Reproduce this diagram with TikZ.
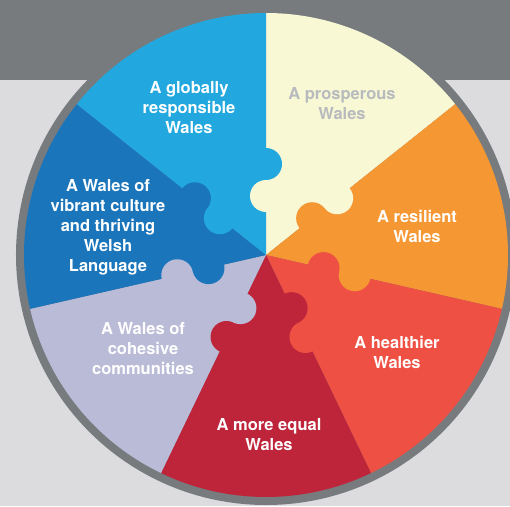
\documentclass[tikz,border=0pt]{standalone}
\usepackage{fontspec}
\setmainfont{TeX Gyre Heros}
\usepackage{xcolor}
\usepackage{tikz}
\definecolor{wbBand}{HTML}{777B7E}
\definecolor{wbBack}{HTML}{DCDCDE}
\definecolor{wbGlobal}{HTML}{22A8DF}
\definecolor{wbProsper}{HTML}{F8F8D5}
\definecolor{wbResilient}{HTML}{F59733}
\definecolor{wbHealthy}{HTML}{EF5044}
\definecolor{wbEqual}{HTML}{BE243A}
\definecolor{wbCohesive}{HTML}{B9BBD7}
\definecolor{wbCulture}{HTML}{1B75BB}
\definecolor{wbGreyText}{HTML}{B8BBBD}

\begin{document}
\begin{tikzpicture}[
  goal/.style={font=\bfseries\fontsize{16.5}{20}\selectfont, text=white, align=center},
  piece/.style={radius=16pt}]
  % background and ring
  \useasboundingbox (-266pt,-251pt) rectangle (244pt,255pt);
  \fill[wbBack] (-266pt,-251pt) rectangle (244pt,255pt);
  \fill[wbBand] (-266pt,175pt) rectangle (244pt,255pt);
  \fill[wbBand] (0,0) circle[radius=250pt];
  % the seven pieces
  \fill[wbProsper] (0,0) -- (90:242pt) arc[start angle=90, end angle=38.57, radius=242pt] -- cycle;
  \fill[wbResilient] (0,0) -- (38.57:242pt) arc[start angle=38.57, end angle=-12.86, radius=242pt] -- cycle;
  \fill[wbHealthy] (0,0) -- (-12.86:242pt) arc[start angle=-12.86, end angle=-64.29, radius=242pt] -- cycle;
  \fill[wbEqual] (0,0) -- (-64.29:242pt) arc[start angle=-64.29, end angle=-115.71, radius=242pt] -- cycle;
  \fill[wbCohesive] (0,0) -- (-115.71:242pt) arc[start angle=-115.71, end angle=-167.14, radius=242pt] -- cycle;
  \fill[wbCulture] (0,0) -- (-167.14:242pt) arc[start angle=-167.14, end angle=-218.57, radius=242pt] -- cycle;
  \fill[wbGlobal] (0,0) -- (141.43:242pt) arc[start angle=141.43, end angle=90, radius=242pt] -- cycle;
  % puzzle knobs
  \fill[wbGlobal] (90:91pt) circle[piece];
  \fill[wbProsper] (90:59pt) circle[piece];
  \fill[wbProsper] (38.57:91pt) circle[piece];
  \fill[wbResilient] (38.57:59pt) circle[piece];
  \fill[wbResilient] (-12.86:91pt) circle[piece];
  \fill[wbHealthy] (-12.86:59pt) circle[piece];
  \fill[wbHealthy] (-64.29:91pt) circle[piece];
  \fill[wbEqual] (-64.29:59pt) circle[piece];
  \fill[wbEqual] (-115.71:91pt) circle[piece];
  \fill[wbCohesive] (-115.71:59pt) circle[piece];
  \fill[wbCohesive] (-167.14:91pt) circle[piece];
  \fill[wbCulture] (-167.14:59pt) circle[piece];
  \fill[wbCulture] (141.43:91pt) circle[piece];
  \fill[wbGlobal] (141.43:59pt) circle[piece];
  % labels
  \node[goal] (global) at (-77pt,147pt) {A globally\\responsible\\Wales};
  \node[goal, text=wbGreyText] (prosper) at (76pt,151pt) {A prosperous\\Wales};
  \node[goal] (resilient) at (151pt,29pt) {A resilient\\Wales};
  \node[goal] (healthy) at (131pt,-97pt) {A healthier\\Wales};
  \node[goal] (equal) at (3pt,-180pt) {A more equal\\Wales};
  \node[goal] (cohesive) at (-123pt,-94pt) {A Wales of\\cohesive\\communities};
  \node[goal] (culture) at (-158pt,28pt) {A Wales of\\vibrant culture\\and thriving\\Welsh\\Language};
\end{tikzpicture}
\end{document}
